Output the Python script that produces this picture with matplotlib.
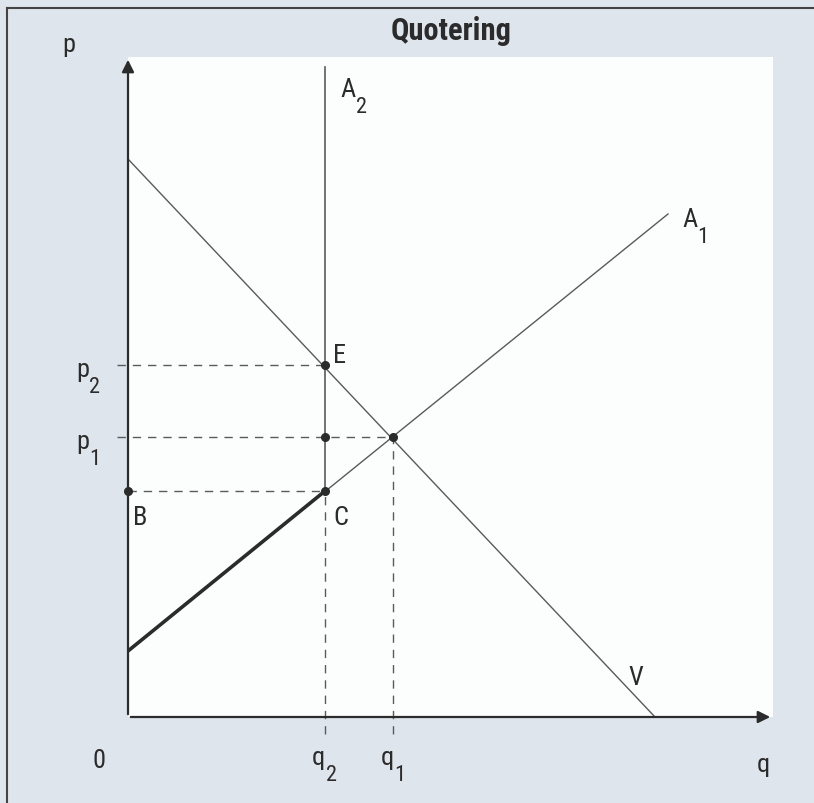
import matplotlib
matplotlib.use('Agg')
import matplotlib.pyplot as plt
from matplotlib.lines import Line2D

plt.rcParams['font.family'] = ['Roboto Condensed', 'DejaVu Sans']

# diagram values (q on x, p on y)
demand_q = [0.0, 5.27]
demand_p = [5.58, 0.0]
supply_q = [0.0, 5.40]
supply_p = [0.66, 5.03]
q2 = 1.97
q1 = 2.65
p1 = 2.80
p2 = 3.52
p_c = 2.26
a2_top = 6.50

bg = '#dfe5ec'
line_col = '#5a5a5a'
dark = '#2b2b2b'
fs = 19


def label(ax, x, y, base, sub=None):
    # letter with a subscript hanging below its baseline
    t = ax.text(x, y, base, fontsize=fs, ha='left', va='baseline', color=dark, clip_on=False)
    if sub:
        ax.annotate(sub, xy=(1, 0), xycoords=t, xytext=(0.3, 3.5), textcoords='offset points',
                    fontsize=fs * 0.85, ha='left', va='top', color=dark)
    return t


fig = plt.figure(figsize=(8.14, 8.04), dpi=100, facecolor=bg)
ax = fig.add_axes([128 / 814, 86 / 804, 645 / 814, 660 / 804])
ax.set_facecolor('#fcfdfd')
ax.set_xlim(0, 6.45)
ax.set_ylim(0, 6.60)
for s in ax.spines.values():
    s.set_visible(False)
ax.set_xticks([])
ax.set_yticks([])

# axes with arrows
ax.annotate('', xy=(6.45, 0), xytext=(0, 0),
            arrowprops=dict(arrowstyle='-|>', color=dark, lw=1.6, mutation_scale=18),
            annotation_clip=False)
ax.annotate('', xy=(0, 6.60), xytext=(0, 0),
            arrowprops=dict(arrowstyle='-|>', color=dark, lw=1.6, mutation_scale=18),
            annotation_clip=False)

# demand V and supply A1
ax.plot(demand_q, demand_p, color=line_col, lw=1.0)
ax.plot(supply_q, supply_p, color=line_col, lw=1.0)
# thick part of supply up to C
ax.plot([supply_q[0], q2], [supply_p[0], p_c], color=dark, lw=2.6, solid_capstyle='round')

# A2 vertical (quota)
ax.plot([q2, q2], [p_c, a2_top], color=line_col, lw=1.2)

# dashed guides
dash = dict(color=line_col, lw=1.0, ls=(0, (6, 5)), clip_on=False)
ax.plot([-0.11, q2], [p2, p2], **dash)
ax.plot([-0.11, q1], [p1, p1], **dash)
ax.plot([0, q2], [p_c, p_c], **dash)
ax.plot([q2, q2], [-0.17, p_c], **dash)
ax.plot([q1, q1], [-0.17, p1], **dash)

# points
pts_q = [q2, q2, q1, q2, 0]
pts_p = [p2, p1, p1, p_c, p_c]
ax.plot(pts_q, pts_p, 'o', color=dark, ms=5.5, clip_on=False, zorder=5)

label(ax, -0.66, 6.66, 'p')
label(ax, -0.36, -0.50, '0')
label(ax, 6.29, -0.54, 'q')
label(ax, q2 - 0.13, -0.47, 'q', '2')
label(ax, q1 - 0.12, -0.47, 'q', '1')
label(ax, -0.52, 3.41, 'p', '2')
label(ax, -0.52, 2.69, 'p', '1')
label(ax, 0.05, 1.93, 'B')
label(ax, q2 + 0.08, 1.93, 'C')
label(ax, q2 + 0.08, 3.55, 'E')
label(ax, q2 + 0.15, 6.21, 'A', '2')
label(ax, 5.54, 4.91, 'A', '1')
label(ax, 5.00, 0.33, 'V')

fig.text(451 / 814, 1 - 31 / 804, 'Quotering', fontsize=22, fontweight='bold',
         ha='center', va='center', color=dark)

# scan frame lines (top and left)
fig.add_artist(Line2D([7 / 814, 1], [1 - 9 / 804, 1 - 9 / 804], color='#444444', lw=1.5))
fig.add_artist(Line2D([7 / 814, 7 / 814], [0, 1 - 9 / 804], color='#444444', lw=1.5))

fig.savefig('out.png', dpi=100, facecolor=bg)
